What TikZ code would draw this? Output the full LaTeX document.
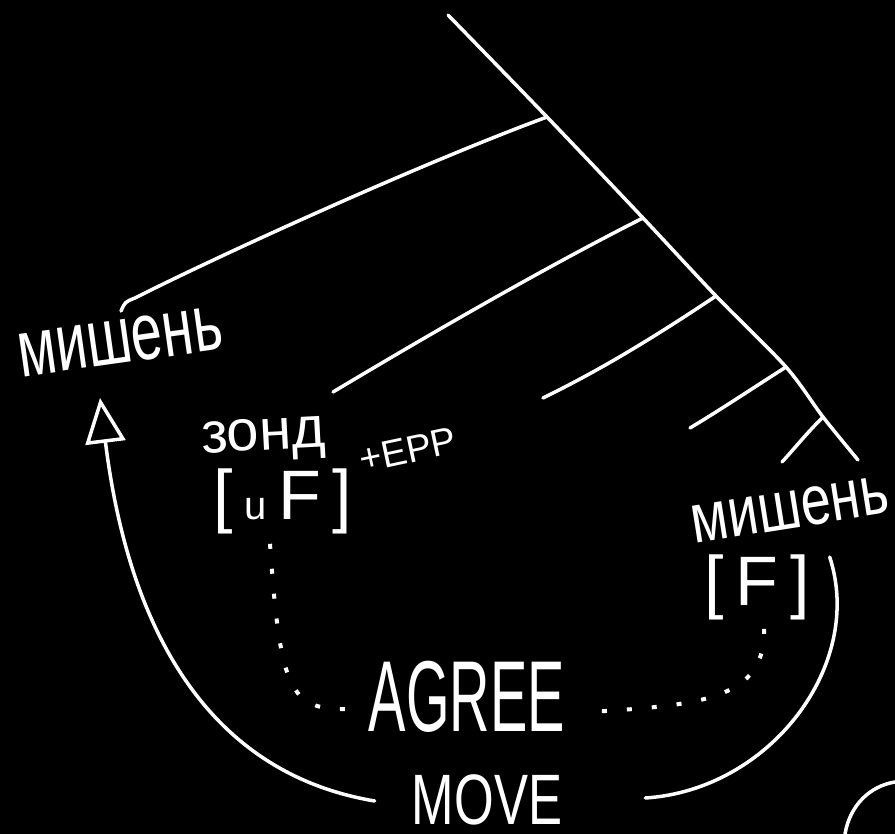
\documentclass[tikz,border=0pt]{standalone}
\usepackage{fontspec}
\setmainfont{Liberation Sans}
\usetikzlibrary{arrows.meta}

\tikzset{
	chalk/.style={white, line width=3.5pt, line cap=round},
	chalkdots/.style={white, line width=4pt, dash pattern=on 5pt off 20pt},
	chalktext/.style={text=white, inner sep=0pt},
}

\begin{document}
\begin{tikzpicture}[x=1pt,y=-1pt]
			
			% Tafel
			\fill[black] (0,0) rectangle (895,834);
			\useasboundingbox (0,0) rectangle (895,834);
			
			% Baum: Stamm und Zweige
			\coordinate (s1) at (547,117);
			\coordinate (s2) at (643,218);
			\coordinate (s3) at (716,296);
			\coordinate (s4) at (786,367);
			\coordinate (s5) at (823,417);
			\draw[chalk] plot[smooth] coordinates {(448,15) (s1) (s2) (s3) (s4) (s5) (858,460)};
			\draw[chalk] (s1) .. controls (430,160) and (230,250) .. (135,298) .. controls (125,302) .. (121,311);
			\draw[chalk] (s2) .. controls (540,270) and (420,340) .. (333,392);
			\draw[chalk] (s3) .. controls (650,340) and (600,370) .. (543,398);
			\draw[chalk] (s4) .. controls (750,390) and (720,410) .. (690,428);
			\draw[chalk] (s5) .. controls (805,435) and (795,448) .. (782,462);
			
			% Beschriftungen
			\node[chalktext, anchor=base, rotate=8, yscale=1.45, font=\fontsize{56}{56}\selectfont] (targL) at (123,363) {мишень};
			\node[chalktext, anchor=base, rotate=9, yscale=1.3, font=\fontsize{54}{54}\selectfont] (targR) at (793,528) {мишень};
			\node[chalktext, anchor=base, rotate=3, font=\fontsize{58}{58}\selectfont] (probe) at (264,450) {зонд};
			\node[chalktext, font=\fontsize{70}{70}\selectfont] (uF) at (283,501) {[\,{\fontsize{40}{40}\selectfont u}\,F\,]};
			\node[chalktext, rotate=12, font=\fontsize{38}{38}\selectfont] (epp) at (408,450) {+EPP};
			\node[chalktext, font=\fontsize{70}{70}\selectfont] (F) at (757,587) {[\,F\,]};
			\node[chalktext, yscale=1.8, font=\fontsize{56}{56}\selectfont] (agree) at (467,697) {AGREE};
			\node[chalktext, yscale=1.4, font=\fontsize{51}{51}\selectfont] (move) at (487,800) {MOVE};
			
			% AGREE (gepunktet)
			\draw[chalkdots] ([shift={(-13,10)}]uF.south) .. controls (280,690) and (290,710) .. ([shift={(-22,12)}]agree.west);
			\draw[chalkdots] ([shift={(7,9)}]F.south) .. controls (766,700) and (700,705) .. ([shift={(25,15)}]agree.east);
			
			% MOVE
			\draw[chalk, -{Triangle[open, length=45pt, width=40pt]}] ([shift={(-37,1)}]move.west) .. controls (190,770) and (125,600) .. ([shift={(-23,35)}]targL.base);
			\draw[chalk] ([shift={(83,-2)}]move.east) .. controls (770,790) and (865,665) .. ([shift={(20,-30)}]F.east);
			
			% Rand unten rechts
			\draw[chalk] (845,834) .. controls (850,805) and (870,786) .. (895,782);
			
\end{tikzpicture}
\end{document}
